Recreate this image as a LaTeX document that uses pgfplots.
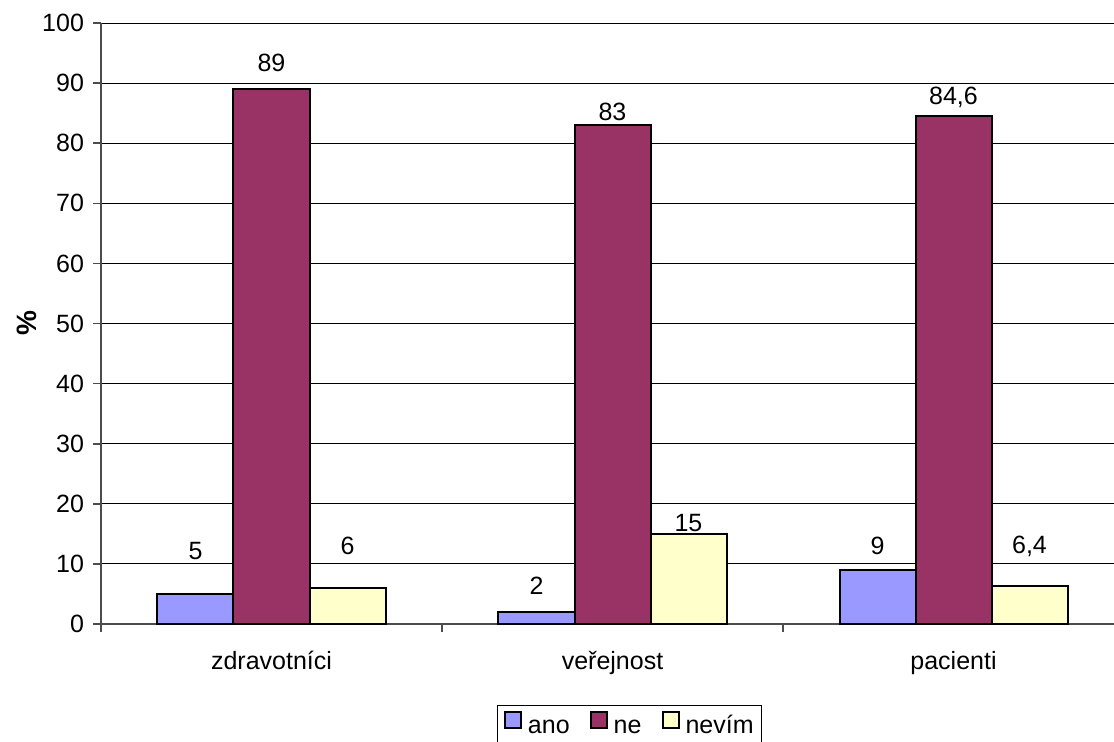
\documentclass[border=0pt]{standalone}
\usepackage{pgfplots}
\usepackage{pgfplotstable}
\usepackage{fontspec}
\setmainfont{Liberation Sans}
\pgfplotsset{compat=1.18}

\definecolor{cano}{HTML}{9999FF}
\definecolor{cne}{HTML}{993366}
\definecolor{cnevim}{HTML}{FFFFCC}

% x = category index, y = percent, dy = label offset above the bar top (pt)
\pgfplotstableread{
x y dy
0 5 21.5
1 2 13
2 9 12
}\tabano
\pgfplotstableread{
x y dy
0 89 13
1 83 6.5
2 84.6 9.25
}\tabne
\pgfplotstableread{
x y dy
0 6 21
1 15 5.5
2 6.4 19.75
}\tabnevim

\begin{document}
\begin{tikzpicture}
\useasboundingbox (-50.5pt,-58.5pt) rectangle (506.5pt,312pt);
\begin{axis}[
  scale only axis,
  width=506.5pt, height=300.5pt,
  font=\fontsize{12.5}{15}\selectfont,
  /pgf/number format/assume math mode=true,
  /pgf/number format/use comma,
  ybar=0pt, bar width=38pt,
  xmin=-0.5, xmax=2.4707,
  ymin=0, ymax=100,
  axis lines*=left,
  axis line style={draw=black!70, line width=0.8pt},
  ytick={0,10,...,100},
  tick align=outside,
  major tick length=4pt,
  tick style={draw=black!70, line width=0.8pt},
  ymajorgrids,
  grid style={draw=black, line width=0.5pt},
  xtick={0,1,2},
  xticklabels={zdravotníci,veřejnost,pacienti},
  x tick style={draw=none},
  minor xtick={-0.5,0.5,1.5,2.5},
  minor x tick style={draw=black!70, line width=0.8pt},
  minor tick length=4pt,
  xticklabel style={yshift=-6pt},
  yticklabel style={xshift=-1pt},
  ylabel={\bfseries\fontsize{14}{16}\selectfont\%},
  ylabel style={yshift=-4pt},
  every axis plot/.append style={draw=black, line width=1pt},
  visualization depends on={\thisrow{dy} \as \dy},
  nodes near coords,
  nodes near coords style={anchor=center, yshift=\dy pt, font=\fontsize{12.5}{15}\selectfont, text=black},
  area legend,
  legend columns=3,
  legend style={at={(0.522,0)}, anchor=north, yshift=-40.5pt,
    draw=black, line width=0.5pt, inner xsep=3pt, inner ysep=2.5pt,
    nodes={text height=0.72em, text depth=0.2em, inner sep=1pt},
    /tikz/every odd column/.append style={column sep=2pt},
    /tikz/every even column/.append style={column sep=9pt}},
  legend image code/.code={\draw[#1, line width=1pt] (0pt,0.5pt) rectangle (8pt,8.5pt);},
]
\addplot[fill=cano] table[x=x,y=y] {\tabano};
\addplot[fill=cne] table[x=x,y=y] {\tabne};
\addplot[fill=cnevim] table[x=x,y=y] {\tabnevim};
\legend{ano,ne,nevím}
\end{axis}
\end{tikzpicture}
\end{document}
